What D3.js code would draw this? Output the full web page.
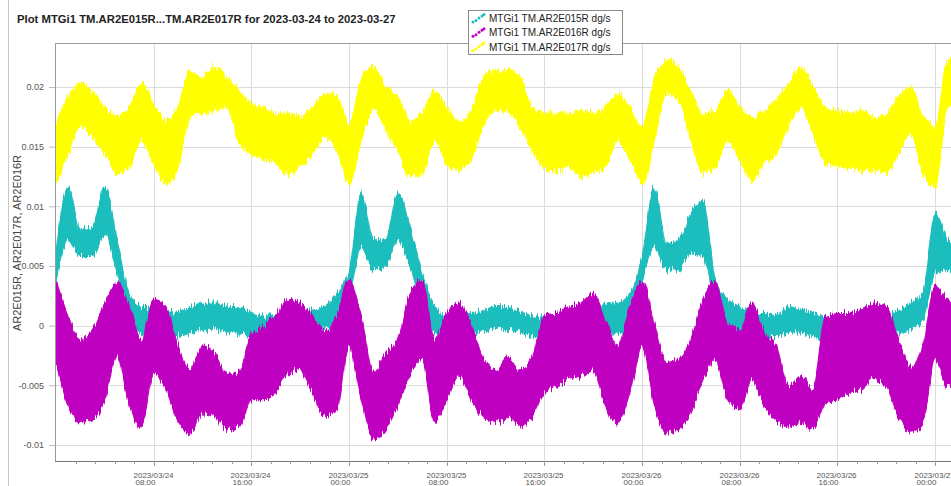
<!DOCTYPE html>
<html>
<head>
<meta charset="utf-8">
<script src="https://cdn.jsdelivr.net/npm/d3@7"></script>
<style>
  html, body { margin: 0; padding: 0; background: #fff; }
  svg { display: block; font-family: "Liberation Sans", Arial, sans-serif; }
</style>
</head>
<body>
<svg id="chart" width="951" height="486"></svg>
<script>
// Hourly min/max envelopes, starting 2023-03-24 00:00 UTC
const startTime = "2023-03-24T00:00:00Z";

const seriesNames = [
  "MTGi1 TM.AR2E015R dg/s",
  "MTGi1 TM.AR2E016R dg/s",
  "MTGi1 TM.AR2E017R dg/s"
];
const seriesColors = ["#1dbdbd", "#c000c0", "#ffff00"];

const ar015High = [.0061,.0116,.0080,.0083,.0116,.0072,.0027,.0016,.0016,.0013,.0011,.0016,.0019,.0019,.0016,.0016,.0011,.0008,.0008,.0011,.0013,.0013,.0016,.0027,.0044,.0111,.0072,.0072,.0111,.0083,.0044,.0016,.0008,.0011,.0011,.0013,.0016,.0016,.0011,.0008,.0008,.0008,.0008,.0008,.0011,.0019,.0019,.0027,.0058,.0116,.0069,.0072,.0094,.0105,.0038,.0022,.0016,.0011,.0011,.0008,.0016,.0013,.0011,.0008,.0008,.0008,.0008,.0008,.0008,.0013,.0019,.0027,.0094,.0072,.0066];
const ar015Low  = [.0038,.0072,.0058,.0058,.0077,.0044,.0005,-.0006,-.0009,-.0006,-.0009,-.0006,-.0003,-.0003,-.0006,-.0006,-.0009,-.0012,-.0012,-.0009,-.0006,-.0006,-.0003,.0005,.0025,.0066,.0047,.0050,.0072,.0050,.0016,-.0006,-.0009,-.0006,-.0006,-.0003,-.0003,-.0003,-.0006,-.0009,-.0009,-.0009,-.0009,-.0009,-.0009,-.0006,-.0006,-.0001,.0038,.0066,.0047,.0047,.0061,.0058,.0016,-.0006,-.0006,-.0009,-.0009,-.0009,-.0006,-.0006,-.0009,-.0012,-.0009,-.0009,-.0009,-.0009,-.0009,-.0006,-.0003,.0005,.0044,.0047,.0047];

const ar016High = [.0038,.0008,-.0012,-.0003,.0019,.0036,.0016,-.0012,.0022,.0016,-.0017,-.0037,-.0017,-.0023,-.0040,-.0040,-.0006,-.0001,.0008,.0022,.0019,.0008,-.0006,.0008,.0038,.0008,-.0040,-.0023,-.0012,.0027,.0038,-.0012,.0011,.0019,.0002,-.0028,-.0037,-.0026,-.0037,-.0026,.0008,.0011,.0016,.0019,.0027,.0005,-.0017,.0016,.0038,.0002,-.0031,-.0028,-.0012,.0022,.0036,.0002,-.0003,.0019,-.0006,-.0017,-.0051,-.0042,-.0053,.0008,.0011,.0011,.0013,.0019,.0016,-.0012,-.0034,-.0017,.0033,.0022,.0016];
const ar016Low  = [-.0031,-.0067,-.0081,-.0079,-.0062,-.0026,-.0067,-.0084,-.0040,-.0053,-.0081,-.0090,-.0073,-.0076,-.0087,-.0084,-.0062,-.0062,-.0056,-.0040,-.0037,-.0056,-.0076,-.0070,-.0017,-.0062,-.0095,-.0087,-.0067,-.0040,-.0028,-.0081,-.0062,-.0042,-.0062,-.0076,-.0081,-.0076,-.0084,-.0076,-.0056,-.0051,-.0045,-.0042,-.0037,-.0067,-.0081,-.0056,-.0017,-.0067,-.0090,-.0087,-.0073,-.0045,-.0028,-.0062,-.0070,-.0045,-.0067,-.0081,-.0084,-.0081,-.0087,-.0065,-.0062,-.0056,-.0053,-.0045,-.0051,-.0076,-.0090,-.0081,-.0028,-.0051,-.0040];

const ar017High = [.0169,.0192,.0203,.0196,.0183,.0175,.0183,.0203,.0186,.0172,.0183,.0214,.0208,.0217,.0208,.0197,.0186,.0183,.0178,.0178,.0175,.0183,.0194,.0192,.0169,.0206,.0217,.0200,.0192,.0172,.0178,.0197,.0183,.0172,.0180,.0208,.0214,.0214,.0208,.0183,.0178,.0178,.0178,.0180,.0178,.0183,.0194,.0183,.0167,.0206,.0222,.0217,.0197,.0178,.0180,.0197,.0183,.0175,.0180,.0189,.0203,.0217,.0200,.0183,.0180,.0178,.0180,.0175,.0178,.0192,.0200,.0175,.0167,.0222,.0225];
const ar017Low  = [.0119,.0144,.0167,.0158,.0144,.0128,.0133,.0155,.0136,.0119,.0133,.0175,.0178,.0180,.0183,.0153,.0144,.0139,.0136,.0128,.0133,.0144,.0158,.0147,.0119,.0155,.0183,.0164,.0147,.0125,.0128,.0155,.0136,.0130,.0139,.0167,.0180,.0180,.0167,.0147,.0133,.0130,.0133,.0125,.0128,.0133,.0155,.0139,.0119,.0155,.0194,.0189,.0155,.0128,.0133,.0155,.0139,.0122,.0136,.0144,.0167,.0183,.0161,.0136,.0133,.0133,.0130,.0130,.0128,.0144,.0161,.0128,.0116,.0183,.0189];

const yTickValues = [-0.01, -0.005, 0, 0.005, 0.01, 0.015, 0.02];
const yTickLabels = ["-0.01", "-0.005", "0", "0.005", "0.01", "0.015", "0.02"];
const xTickTimes = ["2023-03-24T08:00:00Z", "2023-03-24T16:00:00Z", "2023-03-25T00:00:00Z",
                    "2023-03-25T08:00:00Z", "2023-03-25T16:00:00Z", "2023-03-26T00:00:00Z",
                    "2023-03-26T08:00:00Z", "2023-03-26T16:00:00Z", "2023-03-27T00:00:00Z"];

const titleText = "Plot MTGi1 TM.AR2E015R...TM.AR2E017R for 2023-03-24 to 2023-03-27";
const yAxisTitle = "AR2E015R, AR2E017R, AR2E016R";

// ---- layout ----
const svg = d3.select("#chart");
const W = 951, H = 486;
const plot = { left: 55, top: 43, right: 962, bottom: 461 };

const t0 = new Date(startTime);
const times = ar015High.map((_, i) => d3.utcHour.offset(t0, i));

const x = d3.scaleUtc()
  .domain([t0, d3.utcHour.offset(t0, 74)])
  .range([56, 56 + 12.21 * 74]);
const y = d3.scaleLinear()
  .domain([-0.01, 0.02])
  .range([445, 87]);

svg.append("rect").attr("width", W).attr("height", H).attr("fill", "#fff");

// window border on the left
svg.append("line").attr("x1", 8.5).attr("x2", 8.5).attr("y1", 0).attr("y2", H)
  .attr("stroke", "#c8c8c8");

const defs = svg.append("defs");
defs.append("clipPath").attr("id", "plotClip")
  .append("rect").attr("x", plot.left).attr("y", plot.top)
  .attr("width", plot.right - plot.left).attr("height", plot.bottom - plot.top);

// fine vertical fuzz along the band edges (sample-to-sample scatter)
const fz = defs.append("filter").attr("id", "fuzz")
  .attr("x", "-2%").attr("y", "-20%").attr("width", "104%").attr("height", "140%");
fz.append("feTurbulence").attr("type", "fractalNoise")
  .attr("baseFrequency", "0.7 0.02").attr("numOctaves", 2).attr("seed", 4).attr("result", "n");
fz.append("feColorMatrix").attr("in", "n").attr("type", "matrix")
  .attr("values", "0 0 0 0 0.5  0 1 0 0 0  0 0 0 0 0  0 0 0 0 1").attr("result", "m");
fz.append("feDisplacementMap").attr("in", "SourceGraphic").attr("in2", "m")
  .attr("scale", 14).attr("xChannelSelector", "R").attr("yChannelSelector", "G");

// grid
const grid = svg.append("g");
grid.selectAll("line.h").data(yTickValues).join("line")
  .attr("x1", plot.left).attr("x2", plot.right)
  .attr("y1", d => Math.round(y(d)) + 0.5).attr("y2", d => Math.round(y(d)) + 0.5)
  .attr("stroke", "#dcdcdc");
grid.selectAll("line.v").data(xTickTimes).join("line")
  .attr("x1", d => Math.round(x(new Date(d))) + 0.5).attr("x2", d => Math.round(x(new Date(d))) + 0.5)
  .attr("y1", plot.top).attr("y2", plot.bottom)
  .attr("stroke", "#dcdcdc");

// series bands (min/max envelope per hour)
const bands = [
  { hi: ar015High, lo: ar015Low, color: seriesColors[0] },
  { hi: ar016High, lo: ar016Low, color: seriesColors[1] },
  { hi: ar017High, lo: ar017Low, color: seriesColors[2] }
];
const area = d3.area()
  .curve(d3.curveMonotoneX)
  .x(d => x(d.t))
  .y0(d => y(d.lo))
  .y1(d => y(d.hi));
const dataG = svg.append("g").attr("clip-path", "url(#plotClip)");
bands.forEach(b => {
  const pts = times.map((t, i) => ({ t, hi: b.hi[i], lo: b.lo[i] }));
  dataG.append("g").attr("filter", "url(#fuzz)")
    .append("path").datum(pts)
    .attr("d", area)
    .attr("fill", b.color)
    .attr("stroke", b.color)
    .attr("stroke-width", 1.2)
    .attr("stroke-linejoin", "round");
});

// frame
svg.append("line").attr("x1", plot.left + 0.5).attr("x2", plot.left + 0.5)
  .attr("y1", plot.top).attr("y2", plot.bottom).attr("stroke", "#9a9a9a");
svg.append("line").attr("x1", plot.left).attr("x2", plot.right)
  .attr("y1", plot.top + 0.5).attr("y2", plot.top + 0.5).attr("stroke", "#9a9a9a");

// y axis
const yAxis = d3.axisLeft(y)
  .tickValues(yTickValues)
  .tickFormat((d, i) => yTickLabels[i])
  .tickSize(6).tickPadding(5);
const yG = svg.append("g").attr("transform", `translate(${plot.left},0)`).call(yAxis);
yG.select(".domain").remove();
yG.selectAll(".tick line").attr("stroke", "#bbb");
yG.selectAll(".tick text").attr("fill", "#555").attr("font-size", 9)
  .attr("font-family", "Liberation Sans, Arial, sans-serif");

// x axis: majors every 8 h, minor ticks between
const minorTicks = [];
for (let k = 0; k < xTickTimes.length + 1; k++) {
  const base = d3.utcHour.offset(new Date(xTickTimes[0]), 8 * (k - 1));
  for (let j = 1; j < 5; j++) minorTicks.push(new Date(+base + j * 96 * 60000));
}
const xG = svg.append("g");
xG.append("line").attr("x1", plot.left).attr("x2", plot.right)
  .attr("y1", plot.bottom + 0.5).attr("y2", plot.bottom + 0.5).attr("stroke", "#777");
xG.selectAll("line.minor").data(minorTicks.filter(d => x(d) > plot.left)).join("line")
  .attr("x1", d => Math.round(x(d)) + 0.5).attr("x2", d => Math.round(x(d)) + 0.5)
  .attr("y1", plot.bottom).attr("y2", plot.bottom + 3).attr("stroke", "#999");
const fmtDate = d3.utcFormat("%Y/%m/%d");
const fmtTime = d3.utcFormat("%H:%M");
const xt = xG.selectAll("g.xt").data(xTickTimes).join("g")
  .attr("transform", d => `translate(${Math.round(x(new Date(d))) + 0.5},0)`);
xt.append("line").attr("y1", plot.bottom).attr("y2", plot.bottom + 5).attr("stroke", "#999");
xt.append("text").attr("x", -21).attr("y", 477.5)
  .attr("font-size", 8).attr("fill", "#555")
  .text(d => fmtDate(new Date(d)));
xt.append("text").attr("x", -19).attr("y", 485)
  .attr("font-size", 8).attr("fill", "#555")
  .text(d => fmtTime(new Date(d)));

// y axis title
svg.append("text")
  .attr("transform", "translate(21,243) rotate(-90)")
  .attr("text-anchor", "middle")
  .attr("font-size", 11).attr("fill", "#444")
  .text(yAxisTitle);

// title
svg.append("text").attr("x", 17).attr("y", 23)
  .attr("font-size", 11.3).attr("font-weight", "bold").attr("fill", "#222")
  .text(titleText);

// legend
const lg = svg.append("g");
lg.append("rect").attr("x", 468.5).attr("y", 10.5).attr("width", 154).attr("height", 44)
  .attr("fill", "#fff").attr("stroke", "#8a8a8a");
seriesNames.forEach((name, i) => {
  const cy = 18 + i * 14.3;
  const dots = [[0, 4], [3, 2.5], [6, 0], [9, -2], [11, -3.5]];
  lg.selectAll(null).data(dots).join("circle")
    .attr("cx", d => 473 + d[0]).attr("cy", d => cy + d[1])
    .attr("r", 1.5).attr("fill", seriesColors[i]);
  lg.append("text").attr("x", 489).attr("y", cy + 4)
    .attr("font-size", 10).attr("fill", "#222")
    .text(name);
});
</script>
</body>
</html>
